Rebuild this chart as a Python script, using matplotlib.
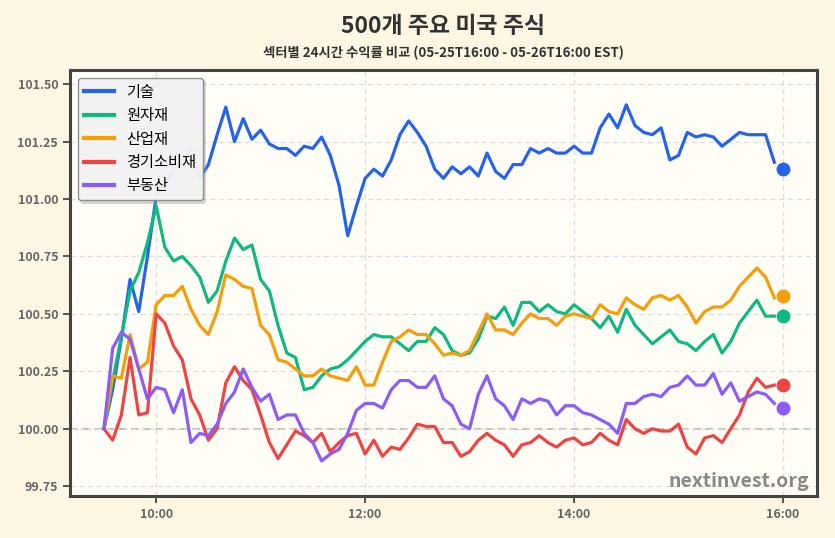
import numpy as np
import pandas as pd
import matplotlib
matplotlib.use("Agg")
import matplotlib.pyplot as plt
import matplotlib.dates as mdates

plt.rcParams['font.family'] = ['Noto Sans CJK KR', 'DejaVu Sans']

# 5-minute bars, 09:30 .. 15:55, plus the closing value at 16:00 (dot)
times = pd.date_range("2025-05-26 09:30", periods=78, freq="5min")
close_time = pd.Timestamp("2025-05-26 16:00")

sectors = ["기술", "원자재", "산업재", "경기소비재", "부동산"]
colors = ["#2563eb", "#10b981", "#f59e0b", "#ef4444", "#8b5cf6"]

tech = [100.00, 100.17, 100.39, 100.65, 100.51, 100.75, 101.01, 101.07, 101.12, 101.17,
        101.22, 101.09, 101.15, 101.28, 101.40, 101.25, 101.35, 101.26, 101.30, 101.24,
        101.22, 101.22, 101.19, 101.23, 101.22, 101.27, 101.19, 101.06, 100.84, 100.97,
        101.09, 101.13, 101.10, 101.17, 101.28, 101.34, 101.29, 101.23, 101.13, 101.09,
        101.14, 101.11, 101.14, 101.10, 101.20, 101.12, 101.09, 101.15, 101.15, 101.22,
        101.20, 101.22, 101.20, 101.20, 101.23, 101.20, 101.20, 101.31, 101.37, 101.31,
        101.41, 101.32, 101.29, 101.28, 101.31, 101.17, 101.19, 101.29, 101.27, 101.28,
        101.27, 101.23, 101.26, 101.29, 101.28, 101.28, 101.28, 101.16]
materials = [100.00, 100.21, 100.40, 100.60, 100.68, 100.81, 100.97, 100.79, 100.73, 100.75,
             100.71, 100.66, 100.55, 100.60, 100.73, 100.83, 100.78, 100.80, 100.65, 100.60,
             100.45, 100.33, 100.31, 100.17, 100.18, 100.23, 100.26, 100.27, 100.30, 100.34,
             100.38, 100.41, 100.40, 100.40, 100.37, 100.34, 100.38, 100.38, 100.44, 100.41,
             100.34, 100.32, 100.33, 100.39, 100.49, 100.48, 100.53, 100.45, 100.55, 100.55,
             100.51, 100.54, 100.51, 100.50, 100.54, 100.51, 100.48, 100.44, 100.49, 100.42,
             100.52, 100.45, 100.41, 100.37, 100.40, 100.43, 100.38, 100.37, 100.34, 100.38,
             100.41, 100.33, 100.38, 100.46, 100.51, 100.56, 100.49, 100.49]
industrials = [100.00, 100.23, 100.22, 100.41, 100.26, 100.29, 100.54, 100.58, 100.58, 100.62,
               100.52, 100.45, 100.41, 100.51, 100.67, 100.65, 100.62, 100.61, 100.45, 100.41,
               100.30, 100.29, 100.26, 100.23, 100.23, 100.26, 100.23, 100.22, 100.21, 100.27,
               100.19, 100.19, 100.29, 100.38, 100.40, 100.43, 100.41, 100.41, 100.37, 100.32,
               100.33, 100.32, 100.34, 100.42, 100.50, 100.43, 100.43, 100.41, 100.46, 100.50,
               100.48, 100.48, 100.45, 100.49, 100.50, 100.49, 100.48, 100.54, 100.51, 100.50,
               100.57, 100.54, 100.52, 100.57, 100.58, 100.56, 100.58, 100.53, 100.46, 100.51,
               100.53, 100.53, 100.56, 100.62, 100.66, 100.70, 100.66, 100.57]
discretionary = [100.00, 99.95, 100.06, 100.31, 100.06, 100.07, 100.50, 100.46, 100.36, 100.30,
                 100.13, 100.06, 99.95, 100.00, 100.20, 100.27, 100.21, 100.17, 100.06, 99.94,
                 99.87, 99.93, 99.99, 99.97, 99.94, 99.98, 99.90, 99.94, 99.97, 99.98,
                 99.89, 99.95, 99.88, 99.92, 99.91, 99.96, 100.02, 100.01, 100.01, 99.94,
                 99.94, 99.88, 99.90, 99.95, 99.98, 99.95, 99.93, 99.88, 99.93, 99.94,
                 99.97, 99.94, 99.92, 99.95, 99.96, 99.93, 99.94, 99.98, 99.95, 99.93,
                 100.04, 100.00, 99.98, 100.00, 99.99, 99.99, 100.02, 99.92, 99.89, 99.96,
                 99.97, 99.94, 100.00, 100.06, 100.16, 100.22, 100.18, 100.19]
real_estate = [100.00, 100.35, 100.42, 100.39, 100.26, 100.13, 100.18, 100.17, 100.07, 100.17,
               99.94, 99.98, 99.97, 100.02, 100.11, 100.16, 100.26, 100.18, 100.12, 100.15,
               100.04, 100.06, 100.06, 99.98, 99.94, 99.86, 99.89, 99.91, 99.98, 100.08,
               100.11, 100.11, 100.09, 100.17, 100.21, 100.21, 100.18, 100.18, 100.23, 100.13,
               100.10, 100.02, 100.00, 100.15, 100.23, 100.13, 100.10, 100.04, 100.13, 100.11,
               100.13, 100.12, 100.06, 100.10, 100.10, 100.07, 100.06, 100.04, 100.02, 99.98,
               100.11, 100.11, 100.14, 100.15, 100.14, 100.18, 100.19, 100.23, 100.19, 100.19,
               100.24, 100.15, 100.20, 100.12, 100.14, 100.16, 100.15, 100.11]
close_values = [101.13, 100.49, 100.58, 100.19, 100.09]

series = [tech, materials, industrials, discretionary, real_estate]

fig = plt.figure(figsize=(8.35, 5.38), dpi=100, facecolor="#fdf6e3")
ax = fig.add_axes([0.0838, 0.078, 0.8946, 0.792])
ax.set_facecolor("#fffdf6")

for name, vals, col, last in zip(sectors, series, colors, close_values):
    ax.plot(times, vals, color=col, lw=2.3, label=name, zorder=3)
    ax.plot([close_time], [last], "o", color=col, ms=9, zorder=4)

ax.axhline(100, color="#b0b0b0", ls=(0, (5, 3)), lw=1.1, zorder=1)

ax.set_xlim(pd.Timestamp("2025-05-26 09:10:30"), pd.Timestamp("2025-05-26 16:19:30"))
ax.set_ylim(99.707, 101.562)
ax.set_yticks([99.75, 100.0, 100.25, 100.5, 100.75, 101.0, 101.25, 101.5])
ax.yaxis.set_major_formatter(plt.FuncFormatter(lambda v, p: f"{v:.2f}"))
ax.xaxis.set_major_locator(mdates.HourLocator(byhour=[10, 12, 14, 16]))
ax.xaxis.set_major_formatter(mdates.DateFormatter("%H:%M"))

ax.grid(True, color="#dddddd", ls=(0, (4, 3)), lw=0.9, zorder=0)
for s in ax.spines.values():
    s.set_color("#444444")
    s.set_linewidth(2.2)
ax.tick_params(axis="both", colors="#444444", labelcolor="#666666", labelsize=9,
               length=5, width=1.3)
for lab in ax.get_xticklabels() + ax.get_yticklabels():
    lab.set_fontweight("bold")

leg = ax.legend(loc="upper left", fontsize=11, frameon=True, fancybox=True,
                shadow={"color": "#999999", "alpha": 0.35},
                facecolor="#f4f4f5", edgecolor="#888888", framealpha=0.95,
                handlelength=2.0, labelspacing=0.42)
for line in leg.get_lines():
    line.set_linewidth(3)

ax.text(0.99, 0.012, "nextinvest.org", transform=ax.transAxes, ha="right", va="bottom",
        fontsize=14, fontweight="bold", color="#888888", zorder=5)

cx = 0.0838 + 0.8946 / 2
fig.text(cx, 0.95, "500개 주요 미국 주식", ha="center", va="center",
         fontsize=16.5, fontweight="bold", color="#333333")
fig.text(cx, 0.902, "섹터별 24시간 수익률 비교 (05-25T16:00 - 05-26T16:00 EST)", ha="center",
         va="center", fontsize=9.6, fontweight="bold", color="#333333")

fig.savefig("out.png", dpi=100, facecolor=fig.get_facecolor())
